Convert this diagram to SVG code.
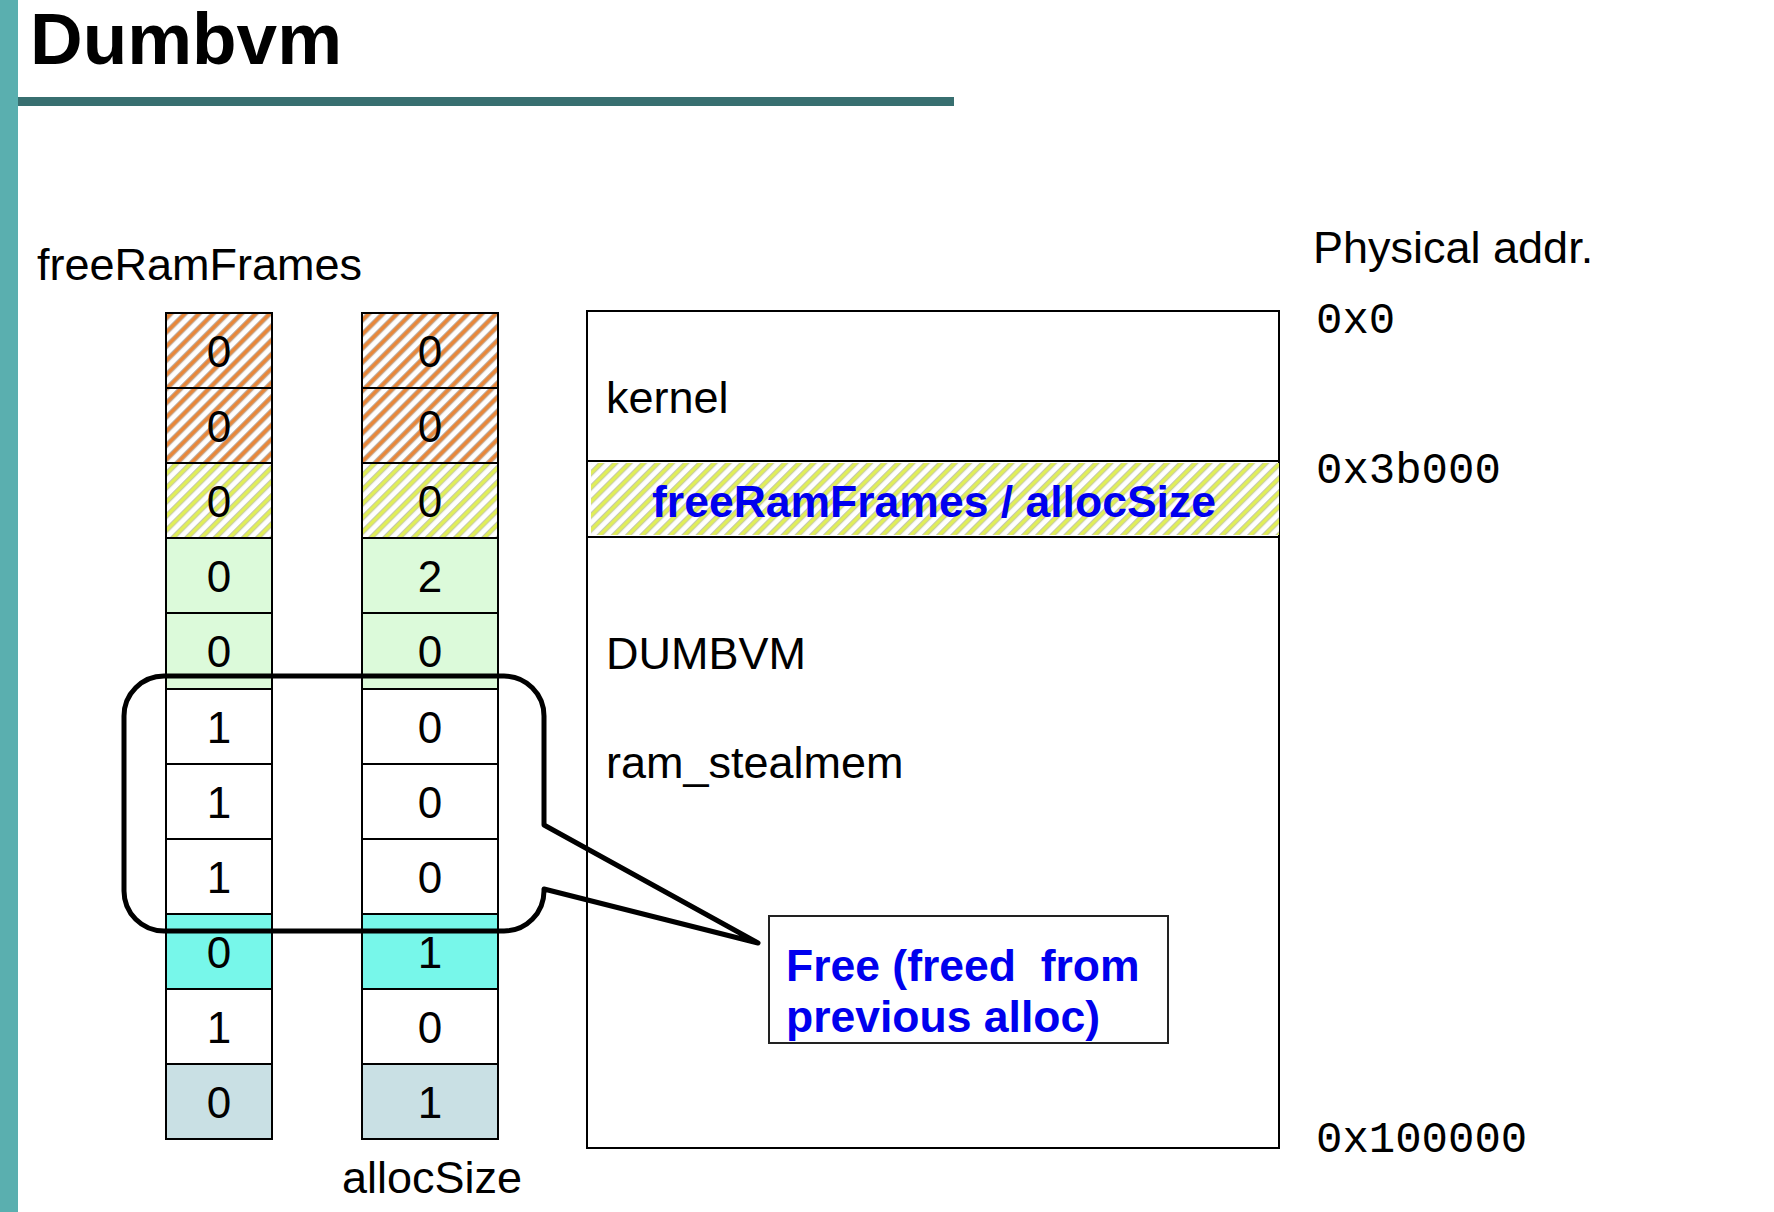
<svg xmlns="http://www.w3.org/2000/svg" width="1774" height="1212" viewBox="0 0 1774 1212">
<defs>
<style>
.sans{font-family:"Liberation Sans",Arial,sans-serif;}
.mono{font-family:"Liberation Mono","Courier New",monospace;font-size:44px;fill:#000;}
.lbl{font-family:"Liberation Sans",Arial,sans-serif;font-size:45px;fill:#000;}
.num{font-family:"Liberation Sans",Arial,sans-serif;font-size:44px;fill:#000;text-anchor:middle;}
.blue{font-family:"Liberation Sans",Arial,sans-serif;font-size:44.5px;font-weight:bold;fill:#0000ee;white-space:pre;}
.cell{stroke:#000;stroke-width:2;}
.w{fill:#fff;}
.g{fill:#dcfada;}
.c{fill:#77f7ea;}
.b{fill:#c9e0e4;}
.o{fill:url(#hatchO);}
.y{fill:url(#hatchY);}
</style>
<pattern id="hatchO" patternUnits="userSpaceOnUse" width="10" height="10" patternTransform="rotate(45)">
<rect width="10" height="10" fill="#fff"/>
<rect x="0" width="5.2" height="10" fill="#b9b3ad"/>
<rect x="0.9" width="3.4" height="10" fill="#e8873a"/>
</pattern>
<pattern id="hatchY" patternUnits="userSpaceOnUse" width="10" height="10" patternTransform="rotate(45)">
<rect width="10" height="10" fill="#fff"/>
<rect x="0" width="5.2" height="10" fill="#c2c4b4"/>
<rect x="0.9" width="3.4" height="10" fill="#e0ee58"/>
</pattern>
</defs>
<rect x="0" y="0" width="1774" height="1212" fill="#fff"/>
<rect x="0" y="0" width="18" height="1212" fill="#5aafaf"/>
<g id="title">
<text class="sans" x="30" y="64" font-size="72" font-weight="bold" fill="#000" textLength="312" lengthAdjust="spacingAndGlyphs">Dumbvm</text>
<rect x="18" y="97" width="936" height="9" fill="#386f70"/>
</g>
<text id="label-freeRamFrames" class="lbl" x="37" y="280">freeRamFrames</text>
<text id="label-physical" class="lbl" x="1313" y="263" font-size="44">Physical addr.</text>
<text id="label-allocSize" class="lbl" x="432" y="1193" text-anchor="middle">allocSize</text>

<g id="col-freeRamFrames">
<g id="f0"><rect class="cell o" x="166" y="313" width="106" height="75"/><text class="num" x="219" y="367">0</text></g>
<g id="f1"><rect class="cell o" x="166" y="388" width="106" height="75"/><text class="num" x="219" y="442">0</text></g>
<g id="f2"><rect class="cell y" x="166" y="463" width="106" height="75"/><text class="num" x="219" y="517">0</text></g>
<g id="f3"><rect class="cell g" x="166" y="538" width="106" height="75"/><text class="num" x="219" y="592">0</text></g>
<g id="f4"><rect class="cell g" x="166" y="613" width="106" height="76"/><text class="num" x="219" y="667">0</text></g>
<g id="f5"><rect class="cell w" x="166" y="689" width="106" height="75"/><text class="num" x="219" y="743">1</text></g>
<g id="f6"><rect class="cell w" x="166" y="764" width="106" height="75"/><text class="num" x="219" y="818">1</text></g>
<g id="f7"><rect class="cell w" x="166" y="839" width="106" height="75"/><text class="num" x="219" y="893">1</text></g>
<g id="f8"><rect class="cell c" x="166" y="914" width="106" height="75"/><text class="num" x="219" y="968">0</text></g>
<g id="f9"><rect class="cell w" x="166" y="989" width="106" height="75"/><text class="num" x="219" y="1043">1</text></g>
<g id="f10"><rect class="cell b" x="166" y="1064" width="106" height="75"/><text class="num" x="219" y="1118">0</text></g>
</g>

<g id="col-allocSize">
<g id="a0"><rect class="cell o" x="362" y="313" width="136" height="75"/><text class="num" x="430" y="367">0</text></g>
<g id="a1"><rect class="cell o" x="362" y="388" width="136" height="75"/><text class="num" x="430" y="442">0</text></g>
<g id="a2"><rect class="cell y" x="362" y="463" width="136" height="75"/><text class="num" x="430" y="517">0</text></g>
<g id="a3"><rect class="cell g" x="362" y="538" width="136" height="75"/><text class="num" x="430" y="592">2</text></g>
<g id="a4"><rect class="cell g" x="362" y="613" width="136" height="76"/><text class="num" x="430" y="667">0</text></g>
<g id="a5"><rect class="cell w" x="362" y="689" width="136" height="75"/><text class="num" x="430" y="743">0</text></g>
<g id="a6"><rect class="cell w" x="362" y="764" width="136" height="75"/><text class="num" x="430" y="818">0</text></g>
<g id="a7"><rect class="cell w" x="362" y="839" width="136" height="75"/><text class="num" x="430" y="893">0</text></g>
<g id="a8"><rect class="cell c" x="362" y="914" width="136" height="75"/><text class="num" x="430" y="968">1</text></g>
<g id="a9"><rect class="cell w" x="362" y="989" width="136" height="75"/><text class="num" x="430" y="1043">0</text></g>
<g id="a10"><rect class="cell b" x="362" y="1064" width="136" height="75"/><text class="num" x="430" y="1118">1</text></g>
</g>

<g id="memory">
<rect x="587" y="311" width="692" height="837" fill="#fff" stroke="#000" stroke-width="2"/>
<rect x="587" y="461" width="692" height="76" fill="#fff" stroke="#000" stroke-width="2"/>
<rect x="591" y="463" width="688" height="72" fill="url(#hatchY)"/>
<text class="blue" x="934" y="517" font-size="46" text-anchor="middle">freeRamFrames / allocSize</text>
<text class="lbl" x="606" y="413">kernel</text>
<text class="lbl" x="606" y="669">DUMBVM</text>
<text class="lbl" x="606" y="778">ram_stealmem</text>
</g>

<g id="addresses">
<text class="mono" x="1316" y="333">0x0</text>
<text class="mono" x="1316" y="483">0x3b000</text>
<text class="mono" x="1316" y="1152">0x100000</text>
</g>

<g id="note-free">
<rect x="769" y="916" width="399" height="127" fill="#fff" stroke="#222" stroke-width="2"/>
<text class="blue" x="786" y="981">Free (freed  from</text>
<text class="blue" x="786" y="1032">previous alloc)</text>
</g>

<g id="connectors">
<path d="M164,676 H504 A40,40 0 0 1 544,716 V825 L758,943 L544,889 V891 A40,40 0 0 1 504,931 H164 A40,40 0 0 1 124,891 V716 A40,40 0 0 1 164,676 Z" fill="none" stroke="#000" stroke-width="5" stroke-linejoin="round"/>
</g>
</svg>
